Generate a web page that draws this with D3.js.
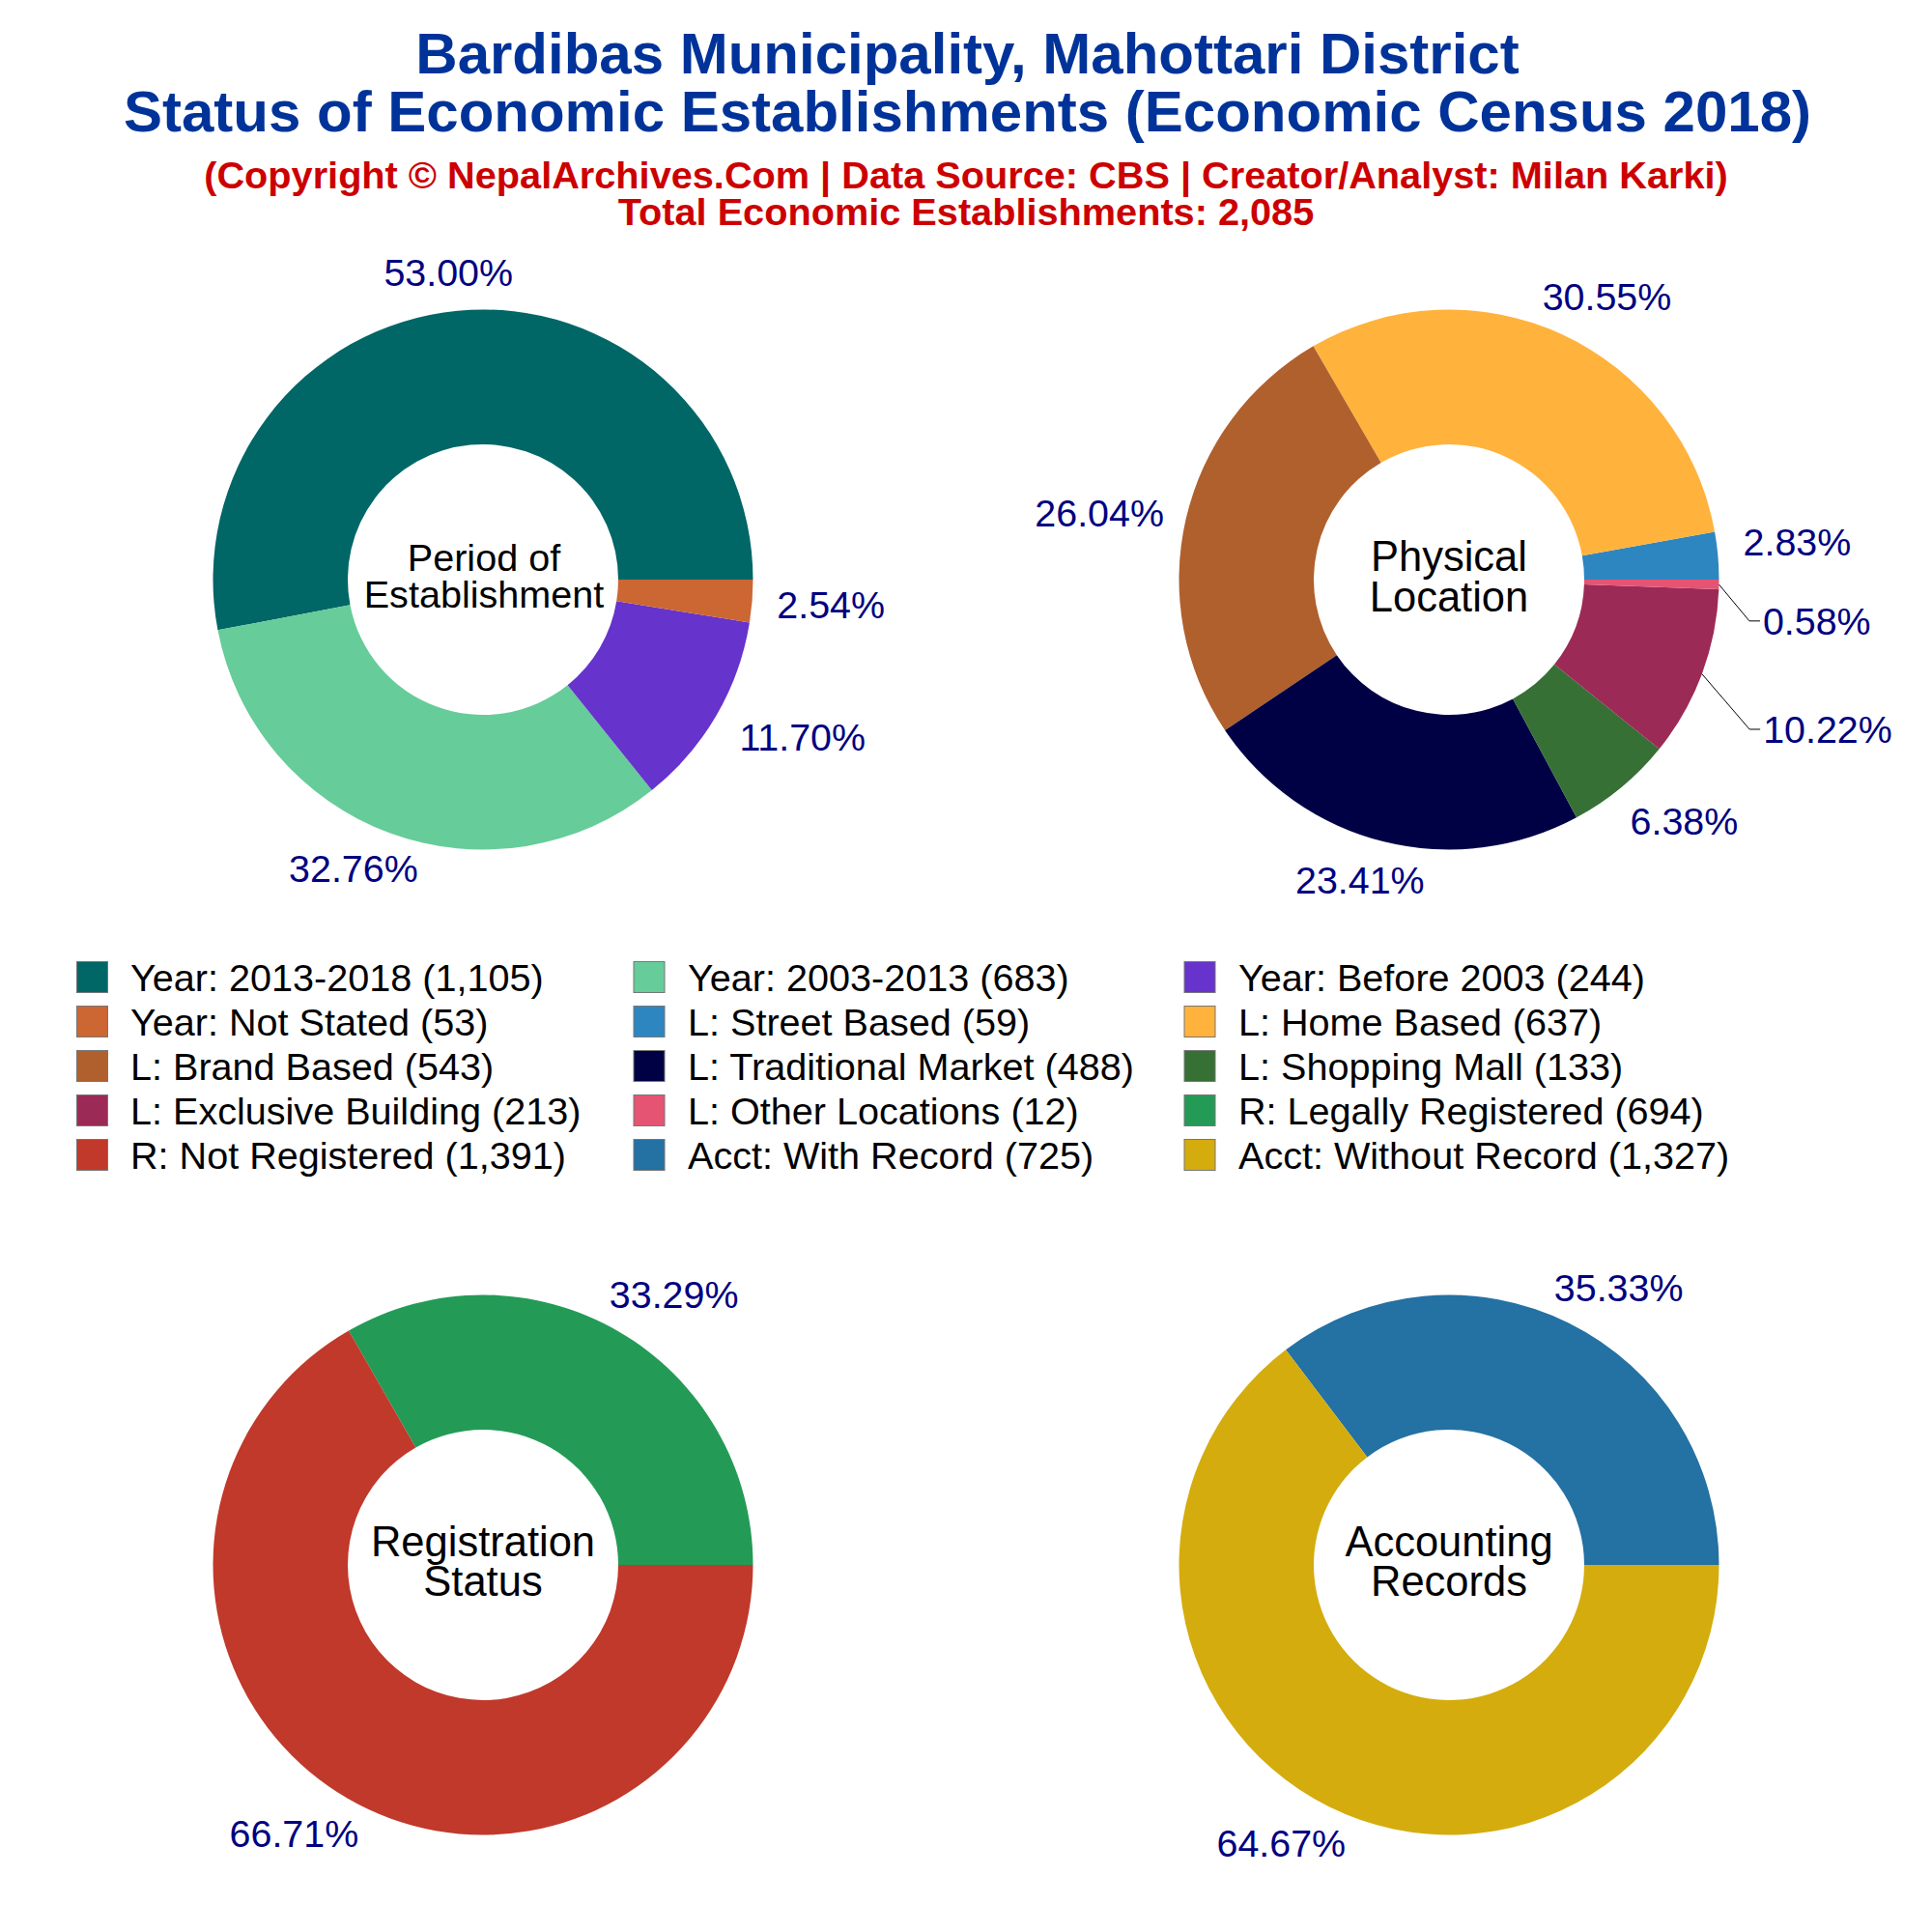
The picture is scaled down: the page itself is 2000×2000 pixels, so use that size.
<!DOCTYPE html>
<html>
<head>
<meta charset="utf-8">
<script src="https://cdn.jsdelivr.net/npm/d3@7/dist/d3.min.js"></script>
<style>
html,body{margin:0;padding:0;background:#fff;}
svg{display:block;}
text{font-family:"Liberation Sans",Arial,sans-serif;}
</style>
</head>
<body>
<script>
// ---- data ----
const titleLines = ["Bardibas Municipality, Mahottari District","Status of Economic Establishments (Economic Census 2018)"];
const subtitleLines = ["(Copyright © NepalArchives.Com | Data Source: CBS | Creator/Analyst: Milan Karki)","Total Economic Establishments: 2,085"];

const yearLabels = ["Year: 2013-2018","Year: 2003-2013","Year: Before 2003","Year: Not Stated"];
const yearValues = [1105,683,244,53];
const yearColors = ["#006666","#66cc99","#6633cc","#cc6633"];

const locationLabels = ["L: Street Based","L: Home Based","L: Brand Based","L: Traditional Market","L: Shopping Mall","L: Exclusive Building","L: Other Locations"];
const locationValues = [59,637,543,488,133,213,12];
const locationColors = ["#2e86c1","#ffb33c","#b0602d","#000044","#367035","#9c2a56","#e55472"];

const registrationLabels = ["R: Legally Registered","R: Not Registered"];
const registrationValues = [694,1391];
const registrationColors = ["#239b56","#c0392b"];

const accountLabels = ["Acct: With Record","Acct: Without Record"];
const accountValues = [725,1327];
const accountColors = ["#2471a3","#d4ac0d"];

const centerTexts = [["Period of","Establishment"],["Physical","Location"],["Registration","Status"],["Accounting","Records"]];

// ---- layout ----
const W = 2000, H = 2000, R = 279.5, r = 140;
const centers = [[500,600],[1500,600],[500,1620],[1500,1620]];
const centerFont = [39.6,43.5,43.5,43.5];
const centerX = [501,1500,500,1500];
const centerBase = [[590.5,628.5],[590.5,632.7],[1610.5,1651.7],[1610.5,1651.7]];
const labelGap = 24, labelFont = 39.4;
// nudges on top of the automatic outside-label placement, per pie and slice: [dx, dy, leader?]
const nudges = [
  [[-1,4],[-6,-4],[12,1],[2,0]],
  [[2.5,-10],[8,1],[-1,4],[-3,-2],[14,1],[45,42,1],[21.5,37,1]],
  [[12,0],[-10,-1]],
  [[11,3],[-9,-1]]
];

const pies = [
  {values:yearValues,colors:yearColors},
  {values:locationValues,colors:locationColors},
  {values:registrationValues,colors:registrationColors},
  {values:accountValues,colors:accountColors}
];

const svg = d3.select("body").append("svg").attr("width",W).attr("height",H).attr("viewBox",[0,0,W,H]);
svg.append("rect").attr("width",W).attr("height",H).attr("fill","#fff");

// titles
svg.selectAll("text.title").data(titleLines).join("text").attr("class","title")
  .attr("x",1001.5).attr("y",(d,i)=>76+i*60).attr("text-anchor","middle")
  .attr("font-size",60).attr("font-weight","bold").attr("fill","#003399").text(d=>d);
svg.selectAll("text.sub").data(subtitleLines).join("text").attr("class","sub")
  .attr("x",1000).attr("y",(d,i)=>195+i*38).attr("text-anchor","middle")
  .attr("font-size",39.7).attr("font-weight","bold").attr("fill","#cc0000").text(d=>d);

// pies
const pieGen = d3.pie().sort(null).value(d=>d).startAngle(Math.PI/2).endAngle(Math.PI/2-2*Math.PI);
const arc = d3.arc().innerRadius(r).outerRadius(R);
const pct = d3.format(".2%");

pies.forEach((p,pi)=>{
  const g = svg.append("g").attr("transform",`translate(${centers[pi]})`);
  const total = d3.sum(p.values);
  const arcs = pieGen(p.values);
  g.selectAll("path").data(arcs).join("path").attr("d",arc).attr("fill",(d,i)=>p.colors[i]);
  arcs.forEach((a,i)=>{
    const mid = (a.startAngle+a.endAngle)/2;
    const ux = Math.sin(mid), uy = -Math.cos(mid);
    const t = g.append("text").attr("font-size",labelFont).attr("fill","#000080").attr("text-anchor","middle")
      .text(pct(a.value/total));
    const w = t.node().getComputedTextLength(), h = labelFont;
    const n = nudges[pi][i];
    const cx = (R+labelGap)*ux + w/2*ux + n[0];
    const cy = (R+labelGap)*uy + h/2*uy + n[1];
    t.attr("x",cx).attr("y",cy+labelFont*0.35);
    if(n[2]){
      const lx = cx-w/2-3;
      const pts = [[R*ux,R*uy],[lx-11,cy],[lx,cy]];
      g.append("path").attr("d",d3.line()(pts)).attr("fill","none").attr("stroke","#000").attr("stroke-width",1);
    }
  });
  // centre text
  svg.selectAll(null).data(centerTexts[pi]).join("text")
    .attr("x",centerX[pi]).attr("y",(d,i)=>centerBase[pi][i]).attr("text-anchor","middle")
    .attr("font-size",centerFont[pi]).attr("fill","#000").text(d=>d);
});

// legend (row by row, three columns)
const legendItems = [];
pies.forEach((p,pi)=>{
  const labs = [yearLabels,locationLabels,registrationLabels,accountLabels][pi];
  labs.forEach((l,i)=>legendItems.push({label:l,value:p.values[i],color:p.colors[i]}));
});
const colSwatch = [79.5,656,1226], colText = [135,712,1282];
const legend = svg.append("g");
const rows = legendItems.map((d,i)=>({...d,col:i%3,row:Math.floor(i/3)}));
legend.selectAll("rect").data(rows).join("rect")
  .attr("x",d=>colSwatch[d.col]).attr("y",d=>995.5+d.row*46).attr("width",32).attr("height",32)
  .attr("fill",d=>d.color).attr("stroke","#777").attr("stroke-width",1);
legend.selectAll("text").data(rows).join("text")
  .attr("x",d=>colText[d.col]).attr("y",d=>1026+d.row*46)
  .attr("font-size",39.6).attr("fill","#000")
  .text(d=>`${d.label} (${d3.format(",")(d.value)})`);
</script>
</body>
</html>
